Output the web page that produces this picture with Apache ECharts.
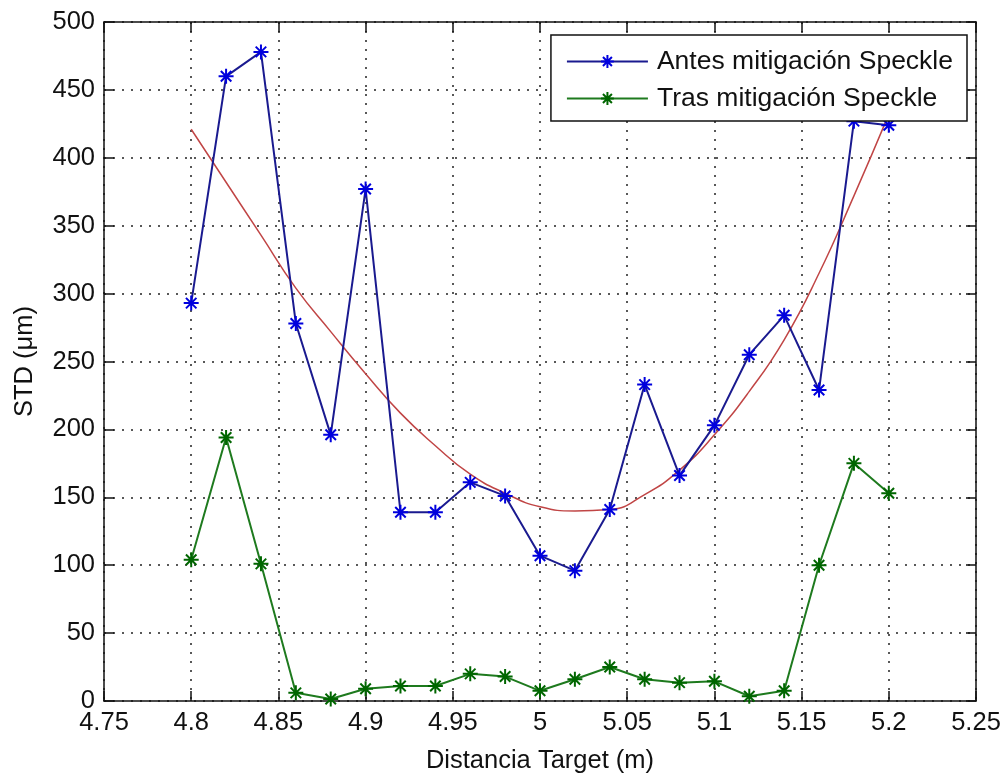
<!DOCTYPE html>
<html>
<head>
<meta charset="utf-8">
<script src="https://cdn.jsdelivr.net/npm/echarts@6/dist/echarts.min.js"></script>
<style>
html,body{margin:0;padding:0;background:#fff;}
#c{width:1004px;height:779px;}
</style>
</head>
<body>
<div id="c"></div>
<script>
// ---- data ----
var distancia = [4.80, 4.82, 4.84, 4.86, 4.88, 4.90, 4.92, 4.94, 4.96, 4.98, 5.00,
                 5.02, 5.04, 5.06, 5.08, 5.10, 5.12, 5.14, 5.16, 5.18, 5.20];
var antesSpeckle = [293, 460, 478, 278, 196, 377, 139, 139, 161, 151, 107,
                    96, 141, 233, 166, 203, 255, 284, 229, 427, 424];
var trasSpeckle = [104, 194, 101, 6, 1.5, 9, 11, 11, 20, 18, 7.5,
                   16, 25, 16, 13.5, 14.5, 3.5, 7.5, 100, 175, 153];
var ajuste = [421, 382, 343, 304, 272, 241, 212, 188, 167, 153, 143,
              140, 141, 152, 170, 196, 228, 266, 315, 372, 432];
var xTicks = {min: 4.75, max: 5.25, interval: 0.05};
var yTicks = {min: 0, max: 500, interval: 50};
var seriesNames = ['Antes mitigación Speckle', 'Tras mitigación Speckle'];

function pairs(xs, ys) { return xs.map(function (x, i) { return [x, ys[i]]; }); }

var star = 'path://M5,0L5,10M0,5L10,5M1.5,1.5L8.5,8.5M1.5,8.5L8.5,1.5';
var FONT = 'Liberation Sans, Arial, sans-serif';
var txt = '#111';

var chart = echarts.init(document.getElementById('c'), null, {renderer: 'canvas'});
var grid = {left: 104, right: 28, top: 22, bottom: 73, show: false};
var dotted = {color: '#222', width: 1.5, type: [2, 7]};

chart.setOption({
  animation: false,
  backgroundColor: '#fff',
  grid: grid,
  legend: {
    data: seriesNames,
    orient: 'vertical',
    right: 37,
    top: 35,
    padding: [13, 14, 9, 15],
    itemGap: 10,
    itemWidth: 81,
    itemHeight: 16,
    backgroundColor: '#fff',
    borderColor: '#111',
    borderWidth: 1.5,
    borderRadius: 0,
    textStyle: {fontFamily: FONT, fontSize: 26.5, color: txt, padding: [0, 0, 0, 4]}
  },
  xAxis: [{
    type: 'value', min: xTicks.min, max: xTicks.max, interval: xTicks.interval,
    name: 'Distancia Target (m)', nameLocation: 'middle', nameGap: 47,
    nameTextStyle: {fontFamily: FONT, fontSize: 25.5, color: txt},
    axisLine: {show: true, onZero: false, lineStyle: {color: '#111', width: 1.5}},
    axisTick: {show: true, inside: true, length: 10, lineStyle: {color: '#111', width: 1.5}},
    axisLabel: {fontFamily: FONT, fontSize: 25.5, color: txt, margin: 9,
      formatter: function (v) { return String(+v.toFixed(2)); }},
    splitLine: {show: true, lineStyle: dotted}
  }, {
    type: 'value', position: 'top', min: xTicks.min, max: xTicks.max, interval: xTicks.interval,
    axisLine: {show: true, onZero: false, lineStyle: {color: '#111', width: 1.5}},
    axisTick: {show: true, inside: true, length: 10, lineStyle: {color: '#111', width: 1.5}},
    axisLabel: {show: false}, splitLine: {show: false}
  }],
  yAxis: [{
    type: 'value', min: yTicks.min, max: yTicks.max, interval: yTicks.interval,
    name: 'STD (μm)', nameLocation: 'middle', nameGap: 66, nameRotate: 90,
    nameTextStyle: {fontFamily: FONT, fontSize: 25.5, color: txt},
    axisLine: {show: true, onZero: false, lineStyle: {color: '#111', width: 1.5}},
    axisTick: {show: true, inside: true, length: 10, lineStyle: {color: '#111', width: 1.5}},
    axisLabel: {fontFamily: FONT, fontSize: 25.5, color: txt, margin: 9},
    splitLine: {show: true, lineStyle: dotted}
  }, {
    type: 'value', position: 'right', min: yTicks.min, max: yTicks.max, interval: yTicks.interval,
    axisLine: {show: true, onZero: false, lineStyle: {color: '#111', width: 1.5}},
    axisTick: {show: true, inside: true, length: 10, lineStyle: {color: '#111', width: 1.5}},
    axisLabel: {show: false}, splitLine: {show: false}
  }],
  series: [{
    name: seriesNames[0], type: 'line', xAxisIndex: 0, yAxisIndex: 0,
    data: pairs(distancia, antesSpeckle),
    symbol: star, symbolSize: 15, showAllSymbol: true,
    lineStyle: {color: '#1a1a8f', width: 2},
    itemStyle: {color: '#0000dd', borderColor: '#0000dd', borderWidth: 2},
    emphasis: {disabled: true}, z: 3
  }, {
    name: seriesNames[1], type: 'line', xAxisIndex: 0, yAxisIndex: 0,
    data: pairs(distancia, trasSpeckle),
    symbol: star, symbolSize: 15, showAllSymbol: true,
    lineStyle: {color: '#1e7a1e', width: 2},
    itemStyle: {color: '#006600', borderColor: '#006600', borderWidth: 2},
    emphasis: {disabled: true}, z: 3
  }, {
    name: 'Ajuste', type: 'line', xAxisIndex: 0, yAxisIndex: 0,
    data: pairs(distancia, ajuste),
    smooth: true, symbol: 'none',
    lineStyle: {color: '#c04545', width: 1.5},
    emphasis: {disabled: true}, z: 2
  }]
});
</script>
</body>
</html>
